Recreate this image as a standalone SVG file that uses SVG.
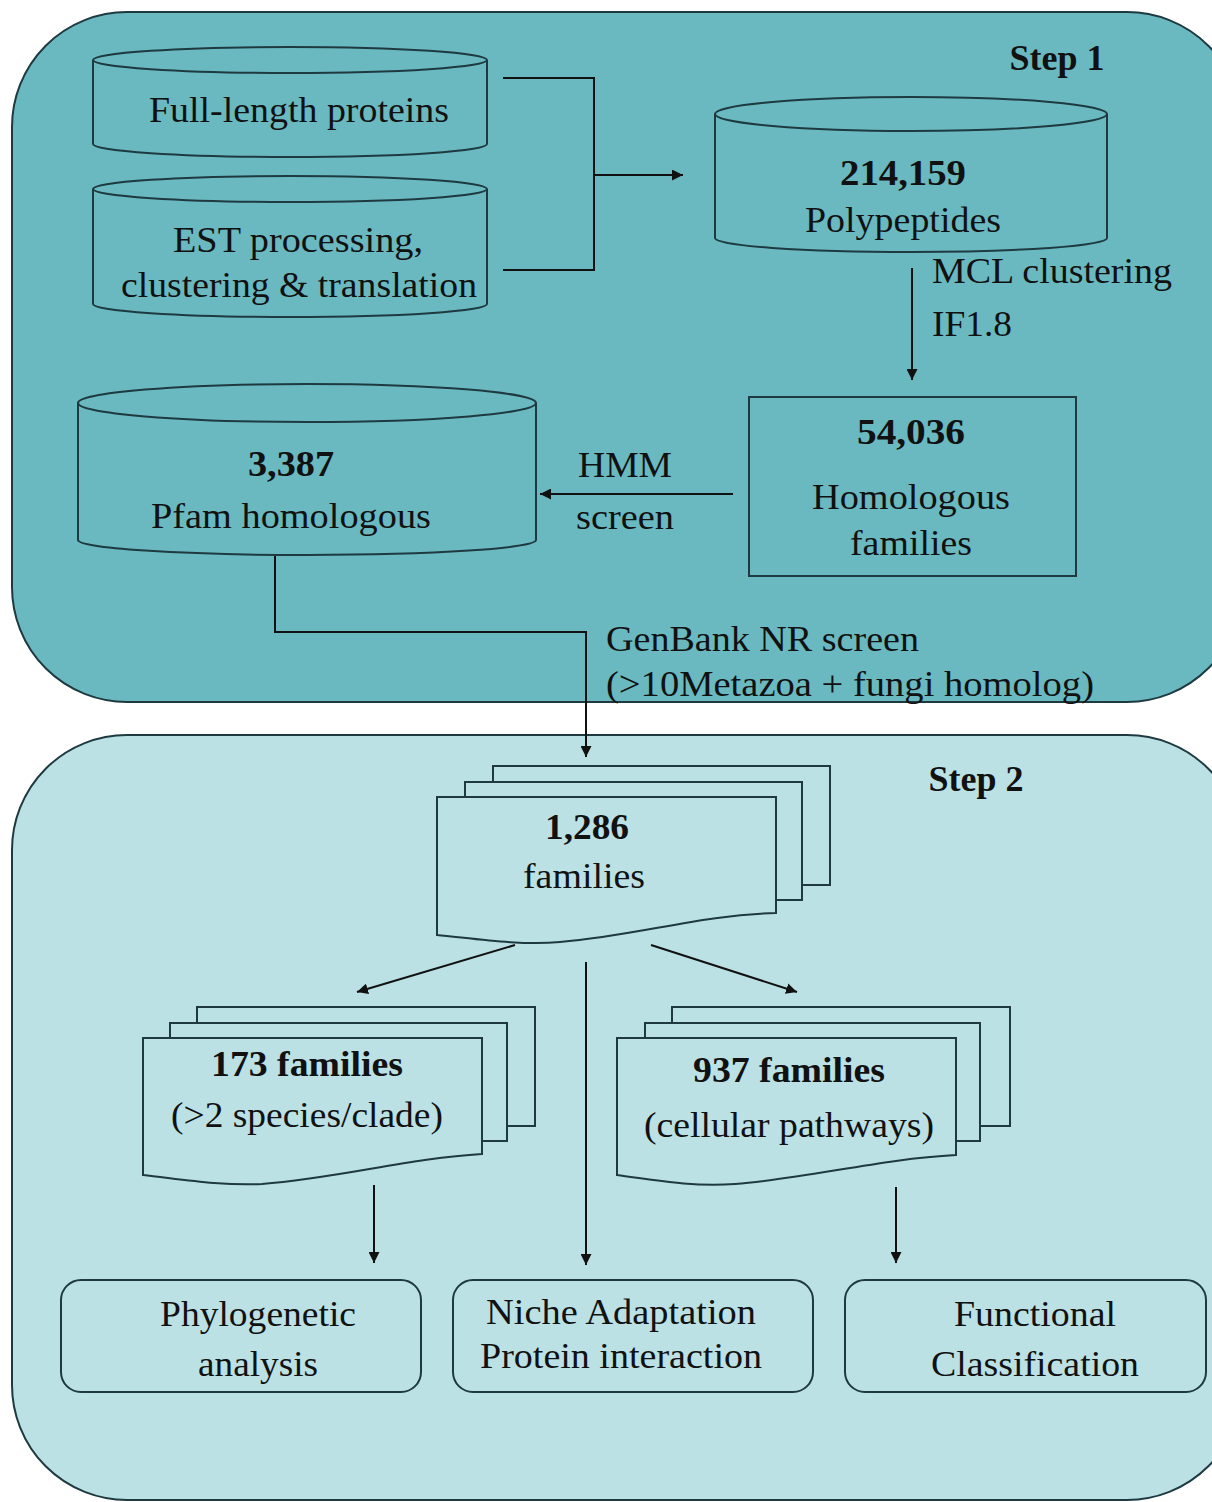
<svg xmlns="http://www.w3.org/2000/svg" width="1212" height="1502" viewBox="0 0 1212 1502">
<defs>
<marker id="ah" viewBox="0 0 10 10" refX="10" refY="5" markerWidth="11" markerHeight="11" markerUnits="userSpaceOnUse" orient="auto"><path d="M0,0 L10,5 L0,10 z" fill="#111"/></marker>
<style>
text{font-family:'Liberation Serif','Times New Roman','DejaVu Serif',serif;font-size:36px;fill:#111;text-anchor:middle}
.b{font-weight:bold}
.l{text-anchor:start}
.f1{fill:#6ab9c1;stroke:#1e3a40;stroke-width:2}
.f2{fill:#bbe1e5;stroke:#1e3a40;stroke-width:2}
.c{fill:none;stroke:#111;stroke-width:2}
</style>
</defs>
<rect width="1212" height="1502" fill="#ffffff"/>
<g id="step1">
<rect x="12" y="12" width="1230" height="690" rx="115" ry="115" class="f1"/>
<text x="1057" y="70" class="b" font-family="Liberation Serif">Step 1</text>
</g>
<g id="step2">
<rect x="12" y="735" width="1230" height="765" rx="115" ry="115" class="f2"/>
<text x="976" y="791" class="b">Step 2</text>
</g>
<g id="full-length">
<path d="M93,60 L93,144 A197,13 0 0 0 487,144 L487,60" class="f1"/>
<ellipse cx="290" cy="60" rx="197" ry="13" class="f1"/>
<text x="299" y="122" textLength="300" lengthAdjust="spacingAndGlyphs">Full-length proteins</text>
</g>
<g id="est">
<path d="M93,189 L93,304 A197,13 0 0 0 487,304 L487,189" class="f1"/>
<ellipse cx="290" cy="189" rx="197" ry="13" class="f1"/>
<text x="298" y="252" textLength="250" lengthAdjust="spacingAndGlyphs">EST processing,</text>
<text x="299" y="297" textLength="356" lengthAdjust="spacingAndGlyphs">clustering &amp; translation</text>
</g>
<g id="polypeptides">
<path d="M715,114 L715,238 A196,14 0 0 0 1107,238 L1107,114" class="f1"/>
<ellipse cx="911" cy="114" rx="196" ry="17" class="f1"/>
<text x="903" y="185" class="b" textLength="126" lengthAdjust="spacingAndGlyphs">214,159</text>
<text x="903" y="232" textLength="196" lengthAdjust="spacingAndGlyphs">Polypeptides</text>
</g>
<g id="homologous">
<rect x="749" y="397" width="327" height="179" class="f1"/>
<text x="911" y="444" class="b" textLength="108" lengthAdjust="spacingAndGlyphs">54,036</text>
<text x="911" y="509" textLength="198" lengthAdjust="spacingAndGlyphs">Homologous</text>
<text x="911" y="555" textLength="122" lengthAdjust="spacingAndGlyphs">families</text>
</g>
<g id="pfam">
<path d="M78,403 L78,540 A229,15 0 0 0 536,540 L536,403" class="f1"/>
<ellipse cx="307" cy="403" rx="229" ry="19" class="f1"/>
<text x="291" y="476" class="b" textLength="86" lengthAdjust="spacingAndGlyphs">3,387</text>
<text x="291" y="528" textLength="280" lengthAdjust="spacingAndGlyphs">Pfam homologous</text>
</g>
<g id="families1286">
<path d="M493,782 L493,766 L830,766 L830,885 L803,885" class="f2"/>
<path d="M465,797 L465,782 L802,782 L802,900 L776,900" class="f2"/>
<path d="M437,797 L776,797 L776,913 C700,915 640,935 560,942 C520,946 470,938 437,935 Z" class="f2"/>
<text x="587" y="839" class="b" textLength="84" lengthAdjust="spacingAndGlyphs">1,286</text>
<text x="584" y="888" textLength="122" lengthAdjust="spacingAndGlyphs">families</text>
</g>
<g id="families173">
<path d="M197,1023 L197,1007 L535,1007 L535,1126 L507,1126" class="f2"/>
<path d="M170,1038 L170,1023 L507,1023 L507,1141 L482,1141" class="f2"/>
<path d="M143,1038 L482,1038 L482,1154 C410,1158 340,1178 262,1184 C220,1186 180,1179 143,1175 Z" class="f2"/>
<text x="307" y="1076" class="b" textLength="192" lengthAdjust="spacingAndGlyphs">173 families</text>
<text x="307" y="1127" textLength="272" lengthAdjust="spacingAndGlyphs">(&gt;2 species/clade)</text>
</g>
<g id="families937">
<path d="M672,1023 L672,1007 L1010,1007 L1010,1126 L980,1126" class="f2"/>
<path d="M645,1038 L645,1023 L980,1023 L980,1141 L956,1141" class="f2"/>
<path d="M617,1038 L956,1038 L956,1155 C880,1159 810,1178 735,1184 C690,1187 655,1180 617,1175 Z" class="f2"/>
<text x="789" y="1082" class="b" textLength="192" lengthAdjust="spacingAndGlyphs">937 families</text>
<text x="789" y="1137" textLength="290" lengthAdjust="spacingAndGlyphs">(cellular pathways)</text>
</g>
<g id="phylo">
<rect x="61" y="1280" width="360" height="112" rx="20" ry="20" class="f2"/>
<text x="258" y="1326" textLength="196" lengthAdjust="spacingAndGlyphs">Phylogenetic</text>
<text x="258" y="1376" textLength="120" lengthAdjust="spacingAndGlyphs">analysis</text>
</g>
<g id="niche">
<rect x="453" y="1280" width="360" height="112" rx="20" ry="20" class="f2"/>
<text x="621" y="1324" textLength="270" lengthAdjust="spacingAndGlyphs">Niche Adaptation</text>
<text x="621" y="1368" textLength="282" lengthAdjust="spacingAndGlyphs">Protein interaction</text>
</g>
<g id="functional">
<rect x="845" y="1280" width="361" height="112" rx="20" ry="20" class="f2"/>
<text x="1035" y="1326" textLength="162" lengthAdjust="spacingAndGlyphs">Functional</text>
<text x="1035" y="1376" textLength="208" lengthAdjust="spacingAndGlyphs">Classification</text>
</g>
<g id="connectors">
<path d="M503,78 L594,78 L594,270 L503,270" class="c"/>
<path d="M594,175 L683,175" class="c" marker-end="url(#ah)"/>
<path d="M912,268 L912,380" class="c" marker-end="url(#ah)"/>
<text x="932" y="283" class="l" textLength="240" lengthAdjust="spacingAndGlyphs">MCL clustering</text>
<text x="932" y="336" class="l" textLength="80" lengthAdjust="spacingAndGlyphs">IF1.8</text>
<path d="M733,494 L540,494" class="c" marker-end="url(#ah)"/>
<text x="625" y="477" textLength="94" lengthAdjust="spacingAndGlyphs">HMM</text>
<text x="625" y="529" textLength="98" lengthAdjust="spacingAndGlyphs">screen</text>
<path d="M275,556 L275,632 L586,632 L586,757" class="c" marker-end="url(#ah)"/>
<text x="606" y="651" class="l" textLength="313" lengthAdjust="spacingAndGlyphs">GenBank NR screen</text>
<text x="606" y="696" class="l" textLength="488" lengthAdjust="spacingAndGlyphs">(&gt;10Metazoa +  fungi homolog)</text>
<path d="M515,945 L357,992" class="c" marker-end="url(#ah)"/>
<path d="M586,962 L586,1265" class="c" marker-end="url(#ah)"/>
<path d="M651,945 L797,992" class="c" marker-end="url(#ah)"/>
<path d="M374,1185 L374,1263" class="c" marker-end="url(#ah)"/>
<path d="M896,1187 L896,1263" class="c" marker-end="url(#ah)"/>
</g>
</svg>
